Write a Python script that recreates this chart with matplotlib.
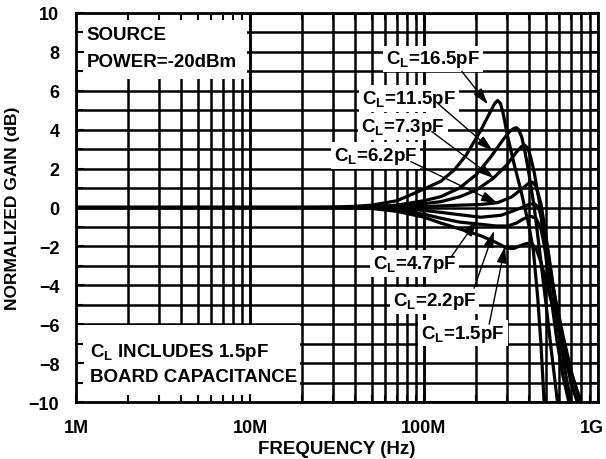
import matplotlib
matplotlib.use("Agg")
import matplotlib.pyplot as plt
from matplotlib.patches import Rectangle
from matplotlib.transforms import ScaledTranslation
import numpy as np

plt.rcParams['font.family'] = ['Liberation Sans', 'DejaVu Sans']
plt.rcParams['font.weight'] = 'bold'
plt.rcParams['mathtext.fontset'] = 'custom'
plt.rcParams['mathtext.rm'] = 'Liberation Sans:bold'
plt.rcParams['mathtext.bf'] = 'Liberation Sans:bold'
plt.rcParams['mathtext.it'] = 'Liberation Sans:bold'

# ---- data (frequency in MHz, normalized gain in dB) ----
f_165 = [1, 10, 20, 30, 40, 50, 70, 100, 125, 150, 175, 210, 240, 255, 265, 275, 285, 300, 330, 360, 400, 425, 450, 470, 490]
g_165 = [0, 0, 0, 0.02, 0.06, 0.12, 0.35, 0.95, 1.35, 1.95, 2.7, 3.9, 4.9, 5.35, 5.5, 5.35, 4.85, 3.8, 2.2, 0.9, -0.9, -2.2, -4.6, -7.0, -10.0]

f_115 = [1, 10, 20, 30, 50, 70, 100, 125, 160, 200, 242, 280, 310, 330, 340, 350, 365, 380, 400, 430, 460, 500, 540, 585]
g_115 = [0, 0, 0, 0, 0.03, 0.12, 0.35, 0.56, 1.0, 1.7, 2.6, 3.4, 3.9, 4.08, 4.1, 4.0, 3.6, 2.9, 1.8, 0.0, -2.1, -4.8, -7.4, -10.0]

f_73 = [1, 10, 20, 30, 50, 70, 100, 125, 160, 200, 250, 300, 340, 365, 380, 395, 410, 430, 460, 490, 530, 580, 630, 680]
g_73 = [0, 0, 0, 0, 0.02, 0.08, 0.2, 0.3, 0.55, 0.9, 1.5, 2.2, 2.85, 3.15, 3.2, 3.05, 2.6, 1.8, 0.3, -1.8, -4.2, -6.8, -8.7, -10.0]

f_62 = [1, 10, 20, 30, 50, 70, 100, 125, 160, 210, 265, 320, 370, 400, 420, 440, 470, 500, 540, 600, 650, 700]
g_62 = [0, 0, 0, 0, 0, 0.02, 0.05, 0.08, 0.12, 0.15, 0.25, 0.55, 1.0, 1.25, 1.3, 1.1, 0.2, -1.3, -3.6, -6.6, -8.5, -10.0]

f_47 = [1, 10, 20, 30, 50, 70, 100, 125, 160, 212, 277, 320, 360, 400, 430, 455, 480, 520, 570, 630, 700, 760]
g_47 = [0, 0, 0, 0, 0, -0.05, -0.15, -0.25, -0.37, -0.5, -0.4, -0.2, -0.02, 0.15, 0.2, 0.0, -0.7, -2.4, -4.8, -7.2, -9.0, -10.0]

f_22 = [1, 10, 20, 30, 50, 70, 100, 125, 160, 220, 260, 304, 340, 370, 410, 440, 470, 510, 560, 630, 710, 790]
g_22 = [0, 0, 0, 0, -0.03, -0.12, -0.35, -0.55, -0.75, -0.88, -0.95, -0.95, -0.8, -0.6, -0.45, -0.55, -1.1, -2.6, -4.4, -6.6, -8.6, -10.0]

f_15 = [1, 10, 20, 30, 50, 70, 100, 125, 160, 212, 260, 300, 330, 360, 390, 420, 440, 470, 510, 560, 640, 720, 800]
g_15 = [0, 0, 0, 0, -0.05, -0.2, -0.5, -0.8, -1.1, -1.45, -1.8, -2.1, -2.1, -1.95, -1.85, -1.9, -2.1, -2.8, -4.0, -5.4, -7.3, -8.8, -10.0]

series = [(f_165, g_165), (f_115, g_115), (f_73, g_73), (f_62, g_62),
          (f_47, g_47), (f_22, g_22), (f_15, g_15)]

x_ticks = [1e6, 1e7, 1e8, 1e9]
x_ticklabels = ['1M', '10M', '100M', '1G']
y_ticks = [-10, -8, -6, -4, -2, 0, 2, 4, 6, 8, 10]

# label text, text position (MHz, dB), arrow tail / tip (MHz, dB)
labels = ['16.5pF', '11.5pF', '7.3pF', '6.2pF', '4.7pF', '2.2pF', '1.5pF']
text_pos = [(113, 7.64), (82, 5.59), (75.7, 4.15), (52.6, 2.67), (88, -2.87), (115, -4.77), (167.5, -6.46)]
tail_pos = [(165, 7.0), (120, 5.35), (111, 3.9), (84, 2.36), (143, -2.55), (194, -4.15), (237, -6.0)]
tip_pos = [(233, 5.3), (249, 2.9), (253, 1.5), (266, 0.2), (202, -0.65), (253, -1.2), (292, -2.0)]

# ---- figure ----
fig = plt.figure(figsize=(6.06, 4.60), dpi=100)
ax = fig.add_axes([76/606, 1-403/460, (598-76)/606, (403-14)/460])
ax.set_xscale('log')
ax.set_xlim(1e6, 1e9)
ax.set_ylim(-10, 10)

# grid drawn manually, below boxes
for dec in [1e6, 1e7, 1e8]:
    for m in range(1, 11):
        ax.axvline(dec*m, color='black', lw=1.8, zorder=1)
for yv in range(-10, 11):
    ax.axhline(yv, color='black', lw=1.8, zorder=1)

# white boxes
ax.add_patch(Rectangle((1.0e6, 6.6), 9.6e6-1.0e6, 3.4, facecolor='white', edgecolor='none', zorder=1.5))
ax.add_patch(Rectangle((1.0e6, -10), 19.5e6-1.0e6, 3.95, facecolor='white', edgecolor='none', zorder=1.5))

ax.text(1.15e6, 8.87, 'SOURCE', fontsize=13.5, fontweight='bold', va='center', ha='left', zorder=3)
ax.text(1.15e6, 7.49, 'POWER=-20dBm', fontsize=13.5, fontweight='bold', va='center', ha='left', zorder=3)
ax.text(1.2e6, -7.38, r'C$_{\rm L}$ INCLUDES 1.5pF', fontsize=13.5, fontweight='bold', va='center', ha='left', zorder=3)
ax.text(1.2e6, -8.67, 'BOARD CAPACITANCE', fontsize=13.5, fontweight='bold', va='center', ha='left', zorder=3)

for f, g in series:
    ax.plot(np.array(f)*1e6, g, color='black', lw=2.3, zorder=4, solid_joinstyle='round')

for lab, tp, tl, tip in zip(labels, text_pos, tail_pos, tip_pos):
    ax.text(tp[0]*1e6, tp[1], r'C$_{\rm L}$=' + lab, fontsize=13.5, fontweight='bold',
            ha='center', va='center', zorder=5,
            bbox=dict(facecolor='white', edgecolor='none', pad=2))
    ax.annotate('', xy=(tip[0]*1e6, tip[1]), xytext=(tl[0]*1e6, tl[1]),
                arrowprops=dict(arrowstyle='-|>,head_length=1.0,head_width=0.3', color='black',
                                lw=1.0, shrinkA=0, shrinkB=0), zorder=6)

ax.set_xticks(x_ticks)
ax.set_xticklabels(x_ticklabels)
ax.set_yticks(y_ticks)
ax.set_yticks(range(-10, 11), minor=True)
ax.tick_params(which='both', direction='in', top=True, right=True, width=1.5)
ax.tick_params(which='major', length=6, pad=12, labelsize=13)
ax.tick_params(which='minor', length=5)
for lab in ax.get_xticklabels() + ax.get_yticklabels():
    lab.set_fontweight('bold')
last = ax.get_xticklabels()[-1]
last.set_transform(last.get_transform() + ScaledTranslation(-0.06, 0, fig.dpi_scale_trans))
ax.set_axisbelow(False)
for s in ax.spines.values():
    s.set_linewidth(2)
    s.set_zorder(7)

ax.set_xlabel('FREQUENCY (Hz)', fontsize=13.5, fontweight='bold', labelpad=3)
ax.set_ylabel('NORMALIZED GAIN (dB)', fontsize=12.5, fontweight='bold', labelpad=6)

fig.savefig('out.png', dpi=100)
